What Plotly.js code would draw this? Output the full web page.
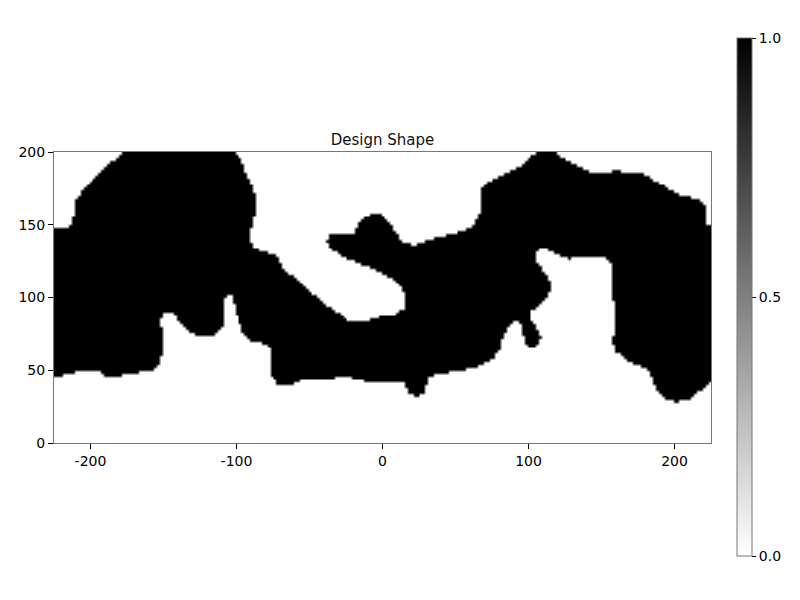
<!DOCTYPE html>
<html>
<head>
<meta charset="utf-8">
<script src="https://cdn.plot.ly/plotly-3.0.1.min.js"></script>
<style>
  body { margin: 0; background: #fff; }
  #design { width: 800px; height: 600px; }
</style>
</head>
<body>
<div id="design"></div>
<script>
// outline of the solid (value 1) region, in plot units
let outline_x = [
  -177.8, -101.3, -96.7, -93.3, -88.8, -86.5, -87.6, -89.9, -91.0, -87.6,
  -81.9, -77.3, -72.8, -70.5, -65.9, -59.1, -56.8, -52.2, -45.4, -34.0,
  -24.8, -22.6, -11.2, 0.2, 9.4, 15.1, 16.2, 11.6, 4.8, -4.3,
  -15.7, -27.2, -36.3, -38.5, -36.3, -20.3, -16.9, -12.3, -2.1, 3.6,
  9.4, 13.9, 20.7, 34.4, 48.1, 59.6, 64.1, 66.4, 67.6, 67.6,
  71.0, 82.1, 91.5, 100.6, 105.2, 116.4, 123.2, 134.8, 141.7, 160.0,
  175.9, 182.8, 191.9, 201.0, 214.7, 220.4, 221.6, 226, 226, 219.2,
  210.1, 201.0, 194.2, 187.3, 182.8, 178.2, 166.8, 160.0, 156.5, 160.0,
  160.0, 157.6, 156.5, 156.5, 150.8, 141.7, 128.0, 121.2, 114.3, 108.6,
  105.2, 105.2, 108.6, 112.9, 115.5, 112.9, 107.5, 101.8, 101.8, 105.2,
  108.6, 105.4, 101.8, 97.2, 95.8, 95.8, 92.4, 86.9, 83.5, 81.3,
  80.1, 75.5, 66.4, 55.0, 36.8, 32.2, 28.7, 23.1, 17.3, 13.9,
  -11.2, -22.6, -54.6, -63.7, -70.5, -76.2, -76.2, -77.3, -81.9, -91.0,
  -95.6, -99.0, -101.3, -103.6, -107.0, -109.3, -108.2, -109.3, -113.8, -124.1,
  -132.1, -136.7, -142.4, -147.0, -151.5, -152.6, -150.4, -151.5, -153.8, -159.5,
  -175.4, -182.3, -188.0, -193.7, -205.1, -221.1, -226, -226, -217.7, -213.1,
  -212.0, -210.8, -206.2, -198.3, -191.5, -182.3
]
let outline_y = [
  200, 200, 193.6, 184.4, 175.3, 166.1, 156.9, 147.8, 139.7, 134.0,
  131.8, 130.6, 129.2, 124.6, 117.7, 113.4, 109.8, 106.5, 100.6, 91.4,
  85.9, 83.4, 84.5, 88.0, 89.1, 93.7, 100.6, 108.6, 114.3, 118.9,
  123.5, 128.0, 133.8, 138.4, 143.0, 144.1, 151.0, 156.7, 157.9, 153.3,
  144.1, 138.4, 136.1, 140.7, 144.1, 147.6, 153.3, 157.9, 167.0, 175.3,
  179.6, 184.2, 189.0, 195.9, 200, 200, 195.9, 189.9, 186.5, 187.1,
  186.5, 183.0, 177.3, 171.6, 168.2, 163.6, 151.0, 147.6, 43.3, 37.6,
  30.7, 28.4, 30.7, 37.6, 49.0, 52.4, 57.0, 62.8, 70.8, 79.9,
  91.4, 98.3, 109.8, 123.5, 128.0, 128.5, 126.9, 129.2, 132.6, 133.8,
  130.4, 125.8, 121.2, 114.3, 109.8, 100.6, 94.8, 91.4, 84.5, 79.9,
  73.1, 66.2, 65.1, 68.7, 74.2, 81.1, 83.4, 82.5, 75.4, 70.8,
  63.9, 58.2, 53.6, 50.2, 47.9, 45.6, 35.3, 31.8, 35.3, 42.1,
  42.8, 45.6, 43.8, 39.9, 39.2, 45.6, 54.8, 65.1, 68.5, 70.8,
  75.4, 84.5, 93.7, 101.7, 102.9, 98.3, 89.1, 79.9, 75.4, 73.5,
  76.5, 79.9, 88.0, 90.9, 89.1, 82.3, 70.8, 61.7, 53.6, 49.7,
  48.3, 45.6, 45.6, 49.0, 50.2, 46.7, 44.5, 147.8, 148, 150.0,
  156.9, 166.1, 173.0, 181.0, 189.0, 195.9
]

let x_range = [-225, 225]
let y_range = [0, 200]
let cell = 2

let x_ticks = [-200, -100, 0, 100, 200]
let x_labels = ["-200", "-100", "0", "100", "200"]
let y_ticks = [0, 50, 100, 150, 200]
let cbar_ticks = [0, 0.5, 1]
let cbar_labels = ["0.0", "0.5", "1.0"]


function inside(px, py) {
    let c = false
    for (let i = 0, j = outline_x.length - 1; i < outline_x.length; j = i++) {
        let xi = outline_x[i], yi = outline_y[i]
        let xj = outline_x[j], yj = outline_y[j]
        if (((yi > py) != (yj > py)) && (px < (xj - xi) * (py - yi) / (yj - yi) + xi)) {
            c = !c
        }
    }
    return c
}


function plot_design() {

    let xs = []
    let ys = []
    for (let x = x_range[0] + cell / 2; x < x_range[1]; x += cell) xs.push(x)
    for (let y = y_range[0] + cell / 2; y < y_range[1]; y += cell) ys.push(y)

    let z = ys.map(function(y) {
        return xs.map(function(x) { return inside(x, y) ? 1 : 0 })
    })

    let shape = {
        type: "heatmap",
        x: xs,
        y: ys,
        z: z,
        zmin: 0,
        zmax: 1,
        zsmooth: "best",
        colorscale: [[0, "#ffffff"], [1, "#000000"]],
        hoverinfo: "skip",
        colorbar: {
            x: 1.0396,
            xanchor: "left",
            y: 0.5017,
            yanchor: "middle",
            thickness: 15,
            lenmode: "pixels",
            len: 518,
            xpad: 0,
            ypad: 0,
            outlinewidth: 1,
            outlinecolor: "#777",
            ticks: "outside",
            ticklen: 4,
            tickcolor: "#000",
            tickvals: cbar_ticks,
            ticktext: cbar_labels,
            tickfont: {size: 14, color: "#000"}
        }
    }

    let layout = {
        width: 800,
        height: 600,
        font: {family: "DejaVu Sans", size: 14, color: "#000"},
        paper_bgcolor: "#fff",
        plot_bgcolor: "#fff",
        margin: {l: 54, r: 89, t: 152, b: 157, pad: 0},
        title: {
            text: "Design Shape",
            font: {size: 15, color: "#111"},
            x: 0.5,
            xref: "paper",
            y: 1,
            yref: "paper",
            yanchor: "bottom",
            pad: {b: 7}
        },
        xaxis: {
            range: x_range,
            tickvals: x_ticks,
            ticktext: x_labels,
            ticks: "outside",
            ticklen: 5,
            tickcolor: "#000",
            showgrid: false,
            zeroline: false,
            showline: true,
            mirror: true,
            linecolor: "#777",
            linewidth: 1,
            fixedrange: true
        },
        yaxis: {
            range: y_range,
            tickvals: y_ticks,
            ticks: "outside",
            ticklen: 5,
            tickcolor: "#000",
            showgrid: false,
            zeroline: false,
            showline: true,
            mirror: true,
            linecolor: "#777",
            linewidth: 1,
            fixedrange: true
        }
    }

    Plotly.newPlot("design", [shape], layout, {displayModeBar: false, staticPlot: true})
}

plot_design()
</script>
</body>
</html>
